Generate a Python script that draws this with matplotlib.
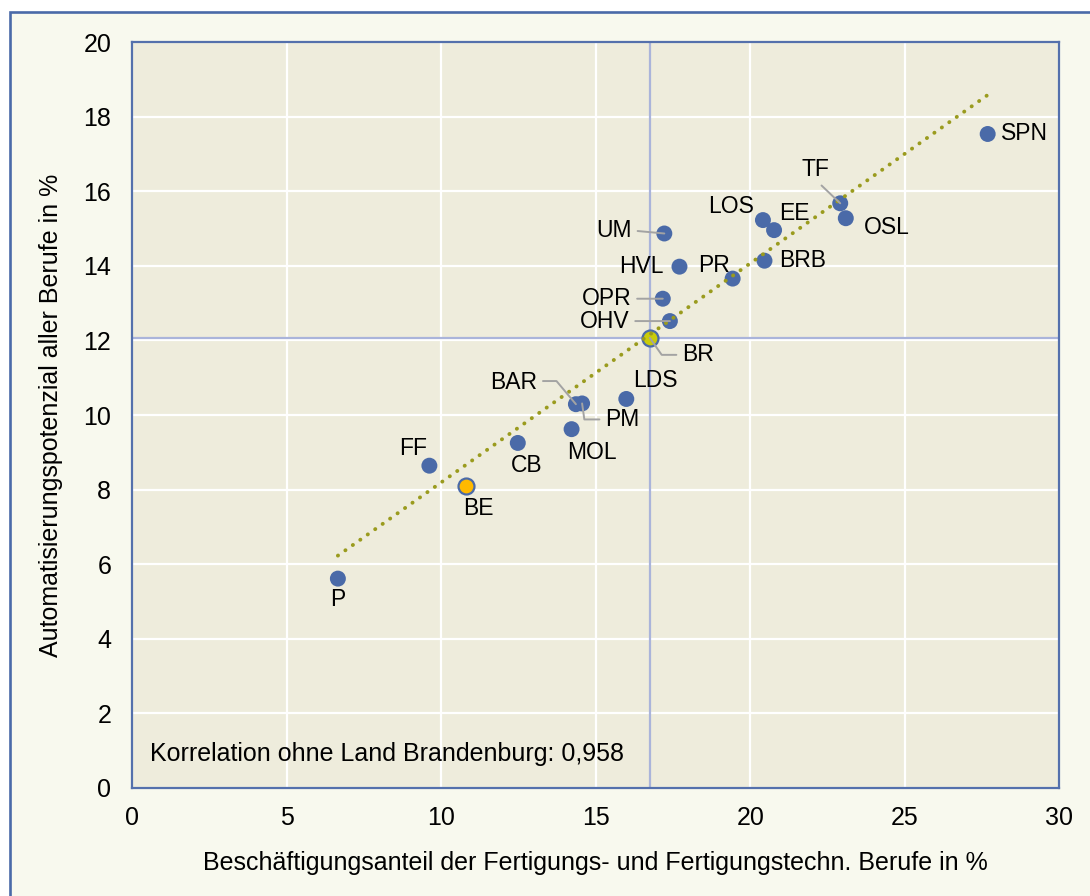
import numpy as np
import matplotlib
matplotlib.use("Agg")
import matplotlib.pyplot as plt
from matplotlib.patches import Rectangle

plt.rcParams['font.family'] = ['Liberation Sans', 'DejaVu Sans']

# ---------------- data ----------------
names = ["P", "FF", "CB", "MOL", "BAR", "PM", "LDS", "OHV", "OPR", "UM",
         "HVL", "PR", "BRB", "LOS", "EE", "TF", "OSL", "SPN"]
x_share = [6.66, 9.62, 12.48, 14.22, 14.36, 14.56, 15.99, 17.40, 17.17, 17.22,
           17.71, 19.43, 20.46, 20.41, 20.77, 22.91, 23.09, 27.68]
y_auto = [5.61, 8.64, 9.25, 9.62, 10.29, 10.31, 10.43, 12.52, 13.12, 14.87,
          13.98, 13.66, 14.14, 15.23, 14.96, 15.68, 15.28, 17.54]

land_name = "BR"
land_x = 16.75
land_y = 12.07

berlin_name = "BE"
berlin_x = 10.79
berlin_y = 8.10

x_ticks = [0, 5, 10, 15, 20, 25, 30]
y_ticks = [0, 2, 4, 6, 8, 10, 12, 14, 16, 18, 20]
x_label = "Beschäftigungsanteil der Fertigungs- und Fertigungstechn. Berufe in %"
y_label = "Automatisierungspotenzial aller Berufe in %"
corr_text = "Korrelation ohne Land Brandenburg: 0,958"

# ---------------- styling ----------------
W, H = 1090, 896
fig = plt.figure(figsize=(W / 100, H / 100), dpi=100)
fig.patch.set_facecolor("white")

frame = Rectangle((10 / W, -0.05), 1.2, 1 - 12 / H + 0.05, transform=fig.transFigure,
                  facecolor="#F8F9EE", edgecolor="#4A6AA8", lw=1.9, zorder=-10)
fig.patches.append(frame)

ax_l, ax_r, ax_t, ax_b = 132, 1059.4, 42.3, 787.7
ax = fig.add_axes([ax_l / W, 1 - ax_b / H, (ax_r - ax_l) / W, (ax_b - ax_t) / H])
ax.set_zorder(1)
ax.set_facecolor("#EEECDC")
ax.set_xlim(0, 30)
ax.set_ylim(0, 20)
ax.set_xticks(x_ticks)
ax.set_yticks(y_ticks)
ax.tick_params(length=0, labelsize=18, colors="black")
ax.tick_params(axis="x", pad=13)
ax.tick_params(axis="y", pad=15)
ax.grid(True, color="white", lw=1.6, zorder=0)
ax.set_axisbelow(True)
for s in ax.spines.values():
    s.set_color("#5470AC")
    s.set_linewidth(1.6)

ax.set_xlabel(x_label, fontsize=18, va="center")
ax.xaxis.set_label_coords(0.5, (ax_b - 863) / (ax_b - ax_t))
ax.set_ylabel(y_label, fontsize=18, va="center")
ax.yaxis.set_label_coords((51.4 - ax_l) / (ax_r - ax_l), 0.5)

# crosshair through Land Brandenburg
cross_c = "#AAB4DA"
ax.axvline(land_x, color=cross_c, lw=1.6, zorder=1)
ax.axhline(land_y, color=cross_c, lw=1.6, zorder=1)

blue = "#4A6AA8"
msize = 132
ax.scatter(x_share, y_auto, s=msize, color=blue, edgecolors="none", zorder=3)
ax.scatter([berlin_x], [berlin_y], s=msize, color="#FFB900", edgecolors=blue,
           linewidths=1.6, zorder=3)
ax.scatter([land_x], [land_y], s=msize, color="#C9CC0A", edgecolors=blue,
           linewidths=1.6, zorder=3)

# trend line (regression over the counties)
xs = np.array(x_share)
ys = np.array(y_auto)
k, d = np.polyfit(xs, ys, 1)
xl = np.array([xs.min(), xs.max()])
ax.plot(xl, k * xl + d, color="#9A9B1E", lw=2.8, linestyle=(0, (0.05, 2.3)),
        dash_capstyle="round", zorder=4)

# labels: offsets in pixels (dx right, dy down), alignment, leader style
lab = {
    "SPN": (13, 0, "left", None),
    "TF": (-25, -34, "center", ("straight", (0.55, 0.0))),
    "LOS": (-32, -14, "center", None),
    "EE": (20, -17, "center", None),
    "OSL": (41, 9, "center", None),
    "UM": (-50, -3, "center", ("straight", (1.0, 0.5))),
    "HVL": (-38, 0, "center", None),
    "PR": (-19, -13, "center", None),
    "BRB": (38, 0, "center", None),
    "OPR": (-56, 0, "center", ("straight", (1.0, 0.5))),
    "OHV": (-65, 0, "center", ("straight", (1.0, 0.5))),
    "LDS": (29, -18, "center", None),
    "BAR": (-62, -22, "center", ("angle,angleA=0,angleB=130,rad=0", (1.0, 0.55))),
    "PM": (40, 16, "center", ("angle,angleA=0,angleB=98,rad=0", (0.0, 0.5))),
    "MOL": (20, 23, "center", None),
    "CB": (9, 23, "center", None),
    "FF": (-16, -17, "center", None),
    "P": (0, 21, "center", None),
    "BE": (13, 23, "center", None),
    "BR": (48, 17, "center", ("angle,angleA=0,angleB=125,rad=0", (0.0, 0.5))),
}

all_pts = list(zip(names, x_share, y_auto)) + [(berlin_name, berlin_x, berlin_y),
                                                (land_name, land_x, land_y)]
for n, xv, yv in all_pts:
    dx, dy, ha, lead = lab[n]
    kw = {}
    if lead is not None:
        style, rel = lead
        ap = dict(arrowstyle="-", color="#A3A3A3", lw=1.4, shrinkA=2, shrinkB=0,
                  relpos=rel)
        if style != "straight":
            ap["connectionstyle"] = style
        kw["arrowprops"] = ap
    ax.annotate(n, (xv, yv), xytext=(dx, -dy), textcoords="offset pixels",
                ha=ha, va="center", fontsize=16.5, zorder=5, **kw)

ax.text((150 - ax_l) / (ax_r - ax_l), (ax_b - 754) / (ax_b - ax_t), corr_text,
        transform=ax.transAxes, ha="left", va="center", fontsize=18)

fig.savefig("out.png", dpi=100)
